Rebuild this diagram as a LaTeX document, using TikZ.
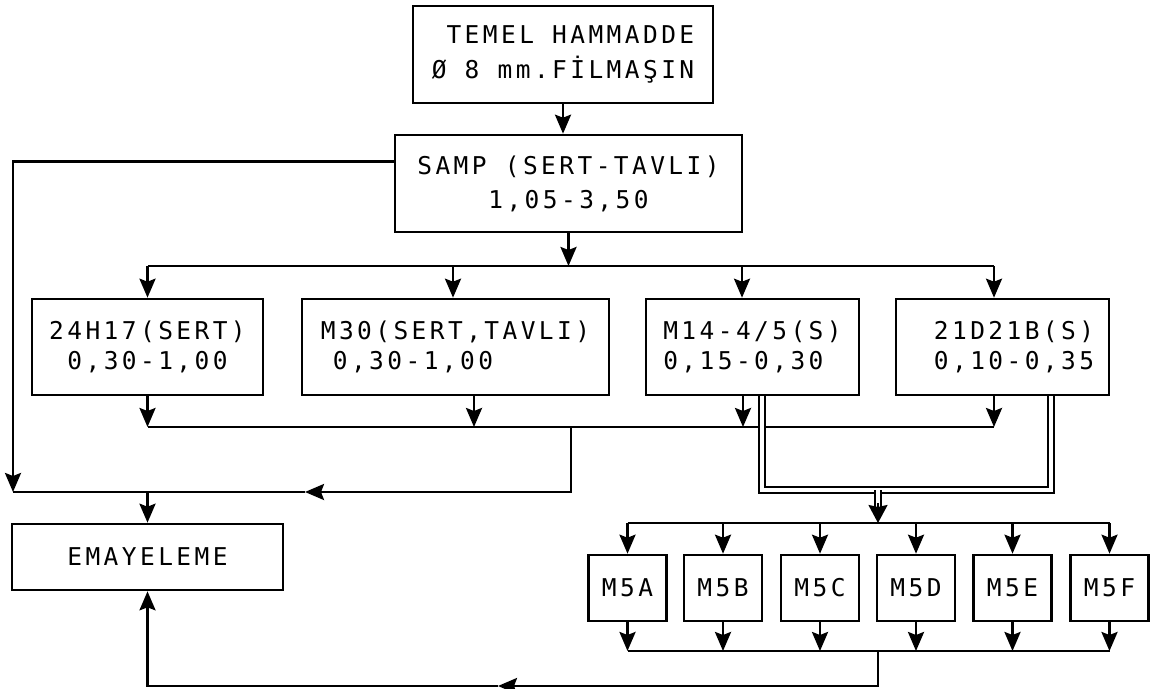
\documentclass[tikz,border=0pt]{standalone}
\usepackage{fontspec}
\newfontfamily\plotfont{DejaVu Sans Mono}[LetterSpace=14]
\usetikzlibrary{arrows.meta,calc}
\tikzset{
  box/.style={draw, line width=2.6pt, inner sep=0pt, font=\plotfont\fontsize{24.5}{#1}\selectfont},
  box/.default=30,
  ln/.style={line width=2.6pt},
  arr/.style={line width=2.6pt, -{Stealth[length=19pt,width=16pt,inset=3pt]}},
  dbl/.style={line width=2.2pt, double, double distance=3.5pt},
  bigtip/.style={line width=2.2pt, -{Stealth[length=18pt,width=19pt,inset=2pt]}},
}
\begin{document}
\begin{tikzpicture}[x=1pt,y=-1pt]
\useasboundingbox (0,0) rectangle (1156,688);
% nodes
\node[box=35, minimum width=300pt, minimum height=97pt, align=right] (tm) at (563,54.5) {TEMEL HAMMADDE\\Ø 8 mm.FİLMAŞIN};
\node[box=34, minimum width=347pt, minimum height=97pt, align=center] (sa) at (568.5,183.5) {SAMP (SERT-TAVLI)\\1,05-3,50};
\node[box, minimum width=231pt, minimum height=96pt, align=center] (b1) at (147.5,347) {24H17(SERT)\\0,30-1,00};
\node[box, minimum width=307pt, minimum height=96pt, align=left] (b2) at (455.5,347) {M30(SERT,TAVLI)\\\hspace*{12pt}0,30-1,00};
\node[box, minimum width=213pt, minimum height=96pt, align=left] (b3) at (752.5,347) {M14-4/5(S)\\0,15-0,30};
\node[box, minimum width=213pt, minimum height=96pt, align=left] (b4) at (1002.5,347) {\hspace*{23pt}21D21B(S)\\\hspace*{23pt}0,10-0,35};
\node[box, minimum width=271pt, minimum height=66pt] (em) at (147.5,557) {EMAYELEME};
\foreach \n/\x/\t in {m1/627.5/M5A, m2/723/M5B, m3/820/M5C, m4/916/M5D, m5/1012.5/M5E, m6/1109.5/M5F}
  \node[box, minimum width=78pt, minimum height=66pt] (\n) at (\x,588) {\t};
% top connectors
\draw[arr] (tm.south) -- (tm.south |- sa.north);
\coordinate (sl) at ($(sa.north west)!0.28!(sa.south west)$);
\coordinate (L) at (13,492);
\draw[arr] (sl) -| (L);
% distribution to row 2
\coordinate (d1) at (0,266);
\draw[arr] (sa.south) -- (sa.south |- d1);
\coordinate (t1) at (b1.north);
\coordinate (t2) at ([xshift=-2.5pt]b2.north);
\coordinate (t3) at ([xshift=-10.5pt]b3.north);
\coordinate (t4) at ([xshift=-8.5pt]b4.north);
\draw[ln] (t1 |- d1) -- (t4 |- d1);
\foreach \t in {t1,t2,t3,t4} \draw[arr] (\t |- d1) -- (\t);
% collector from row 2
\coordinate (c1) at (0,427);
\coordinate (u1) at (b1.south);
\coordinate (u2) at ([xshift=18.5pt]b2.south);
\coordinate (u3) at ([xshift=-9.5pt]b3.south);
\coordinate (u4) at ([xshift=-8.5pt]b4.south);
\draw[ln] (u1 |- c1) -- (u4 |- c1);
\foreach \u in {u1,u2,u3,u4} \draw[arr] (\u) -- (\u |- c1);
\coordinate (k) at (571,427);
\coordinate (k2) at (571,492);
\coordinate (a1) at (305,492);
\draw[arr] (k) -- (k2) -- (a1);
\draw[ln] (a1) -- (L);
\draw[arr] (em.north |- L) -- (em.north);
% double line to M5 group
\coordinate (p1) at ([xshift=9.5pt]b3.south);
\coordinate (p2) at ([xshift=48.5pt]b4.south);
\coordinate (py) at (0,490);
\draw[dbl] (p1) -- (p1 |- py) -- (p2 |- py) -- (p2);
\coordinate (q) at (878,490);
\coordinate (q2) at (878,507);
\coordinate (d2) at (0,523);
\draw[dbl] (q) -- (q2);
\draw[bigtip] ([yshift=4pt]q2) -- (q2 |- d2);
% M5 distribution
\draw[ln] (m1.north |- d2) -- (m6.north |- d2);
\foreach \m in {m1,m2,m3,m4,m5,m6} \draw[arr] (\m.north |- d2) -- (\m.north);
% M5 collector
\coordinate (d3) at (0,651);
\foreach \m in {m1,m2,m3,m4,m5,m6} \draw[arr] (\m.south) -- (\m.south |- d3);
\draw[ln] (m1.south |- d3) -- (m6.south |- d3);
% return to EMAYELEME
\coordinate (r) at (878,651);
\coordinate (r2) at (878,686);
\coordinate (a2) at (498,686);
\draw[arr] (r) -- (r2) -- (a2);
\draw[arr] (a2) -- (em.south |- r2) -- (em.south);
\end{tikzpicture}
\end{document}
